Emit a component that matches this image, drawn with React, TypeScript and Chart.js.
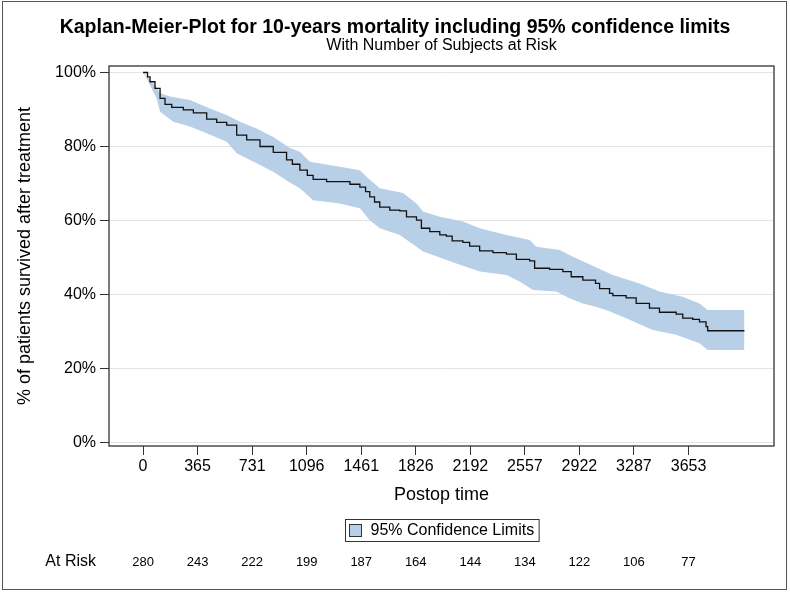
import { useEffect, useRef } from 'react';
import { Chart, registerables } from 'chart.js';

Chart.register(...registerables);

const TITLE = 'Kaplan-Meier-Plot for 10-years mortality including 95% confidence limits';
const SUBTITLE = 'With Number of Subjects at Risk';
const X_TITLE = 'Postop time';
const Y_TITLE = '% of patients survived after treatment';
const LEGEND_LABEL = '95% Confidence Limits';
const AT_RISK_LABEL = 'At Risk';

const xTickValues = [0, 365, 731, 1096, 1461, 1826, 2192, 2557, 2922, 3287, 3653];
const yTickValues = [0, 20, 40, 60, 80, 100];
const atRiskCounts = [280, 243, 222, 199, 187, 164, 144, 134, 122, 106, 77];

const kmTimes = [0, 30, 47, 80, 114, 147, 192, 270, 337, 426, 493, 560, 627, 694, 783, 872, 961, 1000, 1050, 1100, 1139, 1229, 1385, 1452, 1490, 1518, 1550, 1585, 1652, 1719, 1764, 1831, 1864, 1920, 1987, 2031, 2070, 2142, 2187, 2254, 2343, 2433, 2500, 2589, 2622, 2722, 2811, 2867, 2945, 3030, 3057, 3124, 3146, 3235, 3302, 3391, 3458, 3570, 3614, 3681, 3726, 3770, 3781, 4027];
const kmSurvival = [100, 98.8, 97.5, 95.7, 93.0, 91.4, 90.6, 89.9, 89.1, 87.4, 86.5, 85.8, 83.1, 81.8, 80.0, 78.4, 76.4, 75.2, 73.6, 72.2, 71.1, 70.5, 69.8, 69.0, 67.8, 66.4, 65.0, 63.6, 62.8, 62.6, 61.0, 60.1, 57.9, 57.0, 56.1, 55.8, 54.5, 54.1, 53.1, 51.8, 51.3, 50.9, 49.5, 49.1, 47.1, 46.8, 46.2, 44.8, 43.9, 43.0, 41.6, 40.3, 39.7, 39.1, 37.6, 36.3, 35.2, 34.7, 33.6, 33.3, 32.6, 31.3, 30.2, 30.2];

const upperTimes = [0, 50, 90, 114, 181, 314, 448, 560, 649, 760, 872, 983, 1050, 1117, 1318, 1452, 1507, 1585, 1741, 1831, 1875, 1987, 2142, 2254, 2433, 2589, 2633, 2789, 2878, 3000, 3146, 3324, 3458, 3614, 3726, 3781, 4027];
const upperValues = [100, 98, 96, 94.4, 93.5, 92.6, 90.3, 88.5, 86.7, 84.9, 82.6, 79.6, 78.6, 75.9, 74.5, 73.6, 71.4, 68.7, 67.4, 64.6, 62.4, 61.0, 59.7, 57.9, 56.1, 54.7, 52.9, 52.0, 50.2, 48.0, 45.3, 43.0, 40.8, 39.4, 37.6, 35.8, 35.8];

const lowerTimes = [0, 25, 91, 114, 203, 314, 426, 560, 627, 760, 872, 983, 1050, 1139, 1318, 1452, 1518, 1585, 1719, 1831, 1875, 1987, 2098, 2254, 2433, 2522, 2611, 2767, 2856, 2945, 3000, 3102, 3235, 3413, 3570, 3726, 3781, 4027];
const lowerValues = [100, 98.4, 93.0, 89.4, 86.7, 85.4, 83.6, 81.3, 78.2, 75.5, 73.2, 70.3, 68.7, 65.5, 64.6, 63.3, 60.1, 57.9, 56.1, 52.9, 51.6, 50.0, 48.4, 46.2, 45.3, 43.5, 41.2, 40.8, 39.0, 37.6, 37.0, 35.8, 33.6, 30.4, 29.1, 26.8, 25.0, 25.0];

const FONT = '"Liberation Sans", Arial, Helvetica, sans-serif';
const BAND = 'rgb(184,207,232)';
const DARK = '#333333';

const decorPlugin = {
  id: 'decor',
  afterDraw(chart: any) {
    const { ctx, chartArea: ca, scales, width } = chart;
    ctx.save();
    // plot frame
    ctx.strokeStyle = DARK;
    ctx.lineWidth = 1.3;
    ctx.strokeRect(ca.left, ca.top, ca.right - ca.left, ca.bottom - ca.top);
    // outer border
    ctx.strokeStyle = '#555';
    ctx.lineWidth = 1;
    ctx.strokeRect(2.5, 1.5, 784, 588);

    const cx = (ca.left + ca.right) / 2;
    ctx.fillStyle = '#000';
    ctx.textBaseline = 'middle';
    ctx.textAlign = 'center';
    ctx.font = `bold 19.5px ${FONT}`;
    ctx.fillText(TITLE, width / 2, 28);
    ctx.font = `16px ${FONT}`;
    ctx.fillText(SUBTITLE, cx, 46);

    // legend
    ctx.font = `16px ${FONT}`;
    const tw = ctx.measureText(LEGEND_LABEL).width;
    const bw = 4 + 12 + 9 + tw + 5;
    const bx = Math.round(cx - bw / 2) + 0.5;
    const by = 519.5;
    ctx.strokeStyle = DARK;
    ctx.lineWidth = 1;
    ctx.strokeRect(bx, by, bw, 22);
    ctx.fillStyle = BAND;
    ctx.fillRect(bx + 4, by + 5, 12, 12);
    ctx.strokeRect(bx + 4, by + 5, 12, 12);
    ctx.fillStyle = '#000';
    ctx.textAlign = 'left';
    ctx.fillText(LEGEND_LABEL, bx + 25, by + 11.5);

    // at risk row
    ctx.textAlign = 'right';
    ctx.font = `16px ${FONT}`;
    ctx.fillText(AT_RISK_LABEL, ca.left - 13, 562);
    ctx.textAlign = 'center';
    ctx.font = `13px ${FONT}`;
    const xs = scales.x;
    xTickValues.forEach((t, i) => {
      ctx.fillText(String(atRiskCounts[i]), xs.getPixelForValue(t), 562);
    });
    ctx.restore();
  },
};

export default function App() {
  const ref = useRef<HTMLCanvasElement | null>(null);
  useEffect(() => {
    document.body.style.margin = '0';
    const canvas = ref.current;
    if (!canvas) return;
    const chart = new Chart(canvas, {
      type: 'line',
      data: {
        datasets: [
          {
            label: 'upper',
            data: upperTimes.map((t, i) => ({ x: t, y: upperValues[i] })),
            borderWidth: 0,
            borderColor: 'transparent',
            pointRadius: 0,
            tension: 0,
            fill: false,
            order: 2,
          },
          {
            label: 'lower',
            data: lowerTimes.map((t, i) => ({ x: t, y: lowerValues[i] })),
            borderWidth: 0,
            borderColor: 'transparent',
            backgroundColor: BAND,
            pointRadius: 0,
            tension: 0,
            fill: '-1',
            order: 1,
          },
          {
            label: 'Survival',
            data: kmTimes.map((t, i) => ({ x: t, y: kmSurvival[i] })),
            borderColor: '#111',
            borderWidth: 1.3,
            pointRadius: 0,
            stepped: 'before',
            fill: false,
            order: 0,
          },
        ],
      },
      options: {
        responsive: false,
        animation: false,
        layout: { padding: { top: 66, right: 16, bottom: 85, left: 0 } },
        plugins: {
          legend: { display: false },
          title: { display: false },
          tooltip: { enabled: false },
        },
        scales: {
          x: {
            type: 'linear',
            min: -228,
            max: 4225,
            afterBuildTicks: (s: any) => {
              s.ticks = xTickValues.map((v) => ({ value: v }));
            },
            afterFit: (s: any) => {
              s.height = 62;
            },
            grid: {
              drawOnChartArea: false,
              drawTicks: true,
              tickLength: 9,
              tickColor: DARK,
              tickWidth: 1,
            },
            border: { display: false },
            ticks: {
              font: { size: 16, family: FONT },
              color: '#000',
              padding: 2,
              maxRotation: 0,
              autoSkip: false,
              callback: (v: any) => String(v),
            },
            title: {
              display: true,
              text: X_TITLE,
              color: '#000',
              font: { size: 18, family: FONT },
              padding: { top: 0, bottom: 2.2 },
            },
          },
          y: {
            type: 'linear',
            min: -0.95,
            max: 101.76,
            afterBuildTicks: (s: any) => {
              s.ticks = yTickValues.map((v) => ({ value: v }));
            },
            afterFit: (s: any) => {
              s.width = 109;
            },
            grid: {
              color: '#e4e4e4',
              lineWidth: 1,
              drawTicks: true,
              tickLength: 9,
              tickColor: DARK,
            },
            border: { display: false },
            ticks: {
              font: { size: 16, family: FONT },
              color: '#000',
              padding: 4,
              callback: (v: any) => `${v}%`,
            },
            title: {
              display: true,
              text: Y_TITLE,
              color: '#000',
              font: { size: 18, family: FONT },
              padding: { top: 14.7, bottom: 0 },
            },
          },
        },
      },
      plugins: [decorPlugin],
    } as any);
    return () => chart.destroy();
  }, []);
  return <canvas ref={ref} width={790} height={593} style={{ display: 'block', width: 790, height: 593 }} />;
}
